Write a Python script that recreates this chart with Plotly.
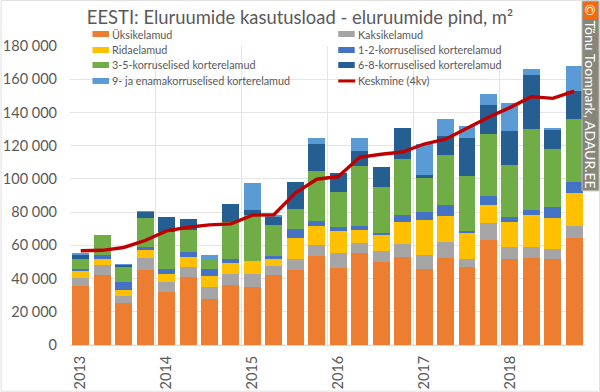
import plotly.graph_objects as go

x_index = list(range(24))
year_ticks = [0, 4, 8, 12, 16, 20]
year_labels = ["2013", "2014", "2015", "2016", "2017", "2018"]
year_edges = [-0.5, 3.5, 7.5, 11.5, 15.5, 19.5, 23.5]
y_ticks = [0, 20000, 40000, 60000, 80000, 100000, 120000, 140000, 160000, 180000]
y_labels = ["0", "20 000", "40 000", "60 000", "80 000", "100 000", "120 000", "140 000", "160 000", "180 000"]

uksik = [35700, 42300, 25500, 45300, 32000, 40700, 27700, 35900, 35000, 41900, 45300, 53700, 46300, 55100, 50100, 52900, 45900, 52500, 47100, 63300, 51900, 52500, 51900, 64300]
kaksik = [4800, 6000, 4000, 7200, 5900, 6400, 7200, 7000, 7500, 5800, 6600, 6600, 9200, 6200, 6400, 8000, 8000, 9800, 4800, 10000, 7400, 6600, 5800, 7400]
ridae = [3800, 3600, 3400, 4800, 4600, 6000, 6800, 6400, 7800, 4200, 12400, 11600, 13400, 8200, 9600, 13200, 21300, 15500, 15600, 11100, 14800, 19300, 18700, 19700]
k1_2 = [1400, 2400, 4800, 1800, 3000, 3000, 4200, 2600, 0, 1800, 5800, 2800, 2200, 2200, 1400, 4100, 5000, 6600, 1000, 5600, 2700, 3000, 6600, 6800]
k3_5 = [5800, 11800, 9000, 17500, 22800, 12900, 6000, 22100, 27700, 18800, 11900, 30300, 21100, 36100, 27900, 33600, 20600, 30000, 33500, 36900, 31400, 48500, 35200, 37700]
k6_8 = [3000, 0, 1600, 3800, 8700, 7000, 0, 10600, 3400, 4900, 16400, 16000, 11200, 9000, 11600, 18700, 1600, 11500, 22500, 17800, 20500, 32500, 11700, 17000]
k9 = [300, 0, 400, 200, 0, 0, 2400, 0, 16000, 400, 0, 3500, 0, 8000, 0, 0, 18500, 10000, 7500, 6400, 17200, 3800, 300, 15200]
keskmine = [56700, 57000, 58700, 62900, 68700, 70900, 72300, 72900, 78200, 78400, 91400, 99800, 101400, 113000, 114800, 116200, 121000, 123900, 130500, 137100, 142900, 149500, 148500, 152900]

series = [
    ("Üksikelamud", uksik, "#ED7D31"),
    ("Kaksikelamud", kaksik, "#A5A5A5"),
    ("Ridaelamud", ridae, "#FFC000"),
    ("1-2-korruselised korterelamud", k1_2, "#4472C4"),
    ("3-5-korruselised korterelamud", k3_5, "#70AD47"),
    ("6-8-korruselised korterelamud", k6_8, "#255E91"),
    ("9- ja enamakorruselised korterelamud", k9, "#5B9BD5"),
]
line_name = "Keskmine (4kv)"
line_color = "#C00000"

TXT = "#595959"
FONT = "Lato"
W, H = 600, 392
L, R, T, B = 69.5, 585, 46, 345.3


def fx(p):
    return (p - L) / (R - L)


def fy(p):
    return (B - p) / (B - T)


fig = go.Figure()
for name, vals, col in series:
    fig.add_trace(go.Bar(name=name, x=x_index, y=vals, marker=dict(color=col, line=dict(width=0)), width=0.79))
fig.add_trace(go.Scatter(name=line_name, x=x_index, y=keskmine, mode="lines",
                         line=dict(color=line_color, width=3.4)))

fig.update_layout(
    width=W, height=H, autosize=False, barmode="stack",
    paper_bgcolor="white", plot_bgcolor="white",
    margin=dict(l=L, r=W - R, t=T, b=H - B),
    font=dict(family=FONT, color=TXT),
    title=dict(text="EESTI: Eluruumide kasutusload - eluruumide pind, m²", x=300 / W, xanchor="center",
               y=1 - 18 / H, yanchor="middle", font=dict(size=18.4, color=TXT, family=FONT)),
    showlegend=False,
    xaxis=dict(range=[-0.5, 23.5], tickmode="array", tickvals=year_ticks, ticktext=year_labels, tickangle=-90,
               automargin=False,
               showgrid=False, zeroline=False, showline=True, linecolor="#D9D9D9", ticks="", ticklabelstandoff=4,
               tickfont=dict(size=14.5, color=TXT),
               minor=dict(tickmode="array", tickvals=year_edges, showgrid=True, gridcolor="#E4E4E4", gridwidth=1, ticks="")),
    yaxis=dict(range=[0, 180000], tickmode="array", tickvals=y_ticks, ticktext=y_labels, showgrid=True,
               automargin=False,
               gridcolor="#E4E4E4", gridwidth=1, zeroline=False, showline=False, ticks="", ticklabelstandoff=12,
               tickfont=dict(size=14.5, color=TXT)),
)

# outer frame
fig.add_shape(type="rect", xref="paper", yref="paper", x0=fx(0.5), x1=fx(599.5), y0=fy(391.5), y1=fy(0.5),
              line=dict(color="#E0E0E0", width=1), fillcolor="rgba(0,0,0,0)", layer="below")

# legend, laid out in two columns of four rows like the original
col_x = [92, 338]
row_y = [34, 50, 65, 81]
entries = [(s[0], s[2], False) for s in series] + [(line_name, line_color, True)]
for i, (name, col, is_line) in enumerate(entries):
    cx = col_x[i % 2]
    cy = row_y[i // 2]
    if is_line:
        fig.add_shape(type="line", xref="paper", yref="paper", x0=fx(cx), x1=fx(cx + 17), y0=fy(cy), y1=fy(cy),
                      line=dict(color=col, width=3), layer="above")
    else:
        fig.add_shape(type="rect", xref="paper", yref="paper", x0=fx(cx), x1=fx(cx + 16.5), y0=fy(cy + 3), y1=fy(cy - 3),
                      fillcolor=col, line=dict(width=0), layer="above")
    fig.add_annotation(text=name, xref="paper", yref="paper", x=fx(cx + 18), y=fy(cy), showarrow=False,
                       xanchor="left", yanchor="middle", font=dict(size=10.8, color=TXT, family=FONT))

# watermark
fig.add_shape(type="rect", xref="paper", yref="paper", x0=fx(582), x1=fx(599), y0=fy(191), y1=fy(1),
              fillcolor="#86867A", line=dict(color="#BDBDB5", width=1), layer="above")
fig.add_shape(type="rect", xref="paper", yref="paper", x0=fx(583), x1=fx(598), y0=fy(19), y1=fy(2),
              fillcolor="#F26A10", line=dict(width=0), layer="above")
fig.add_annotation(text="Tõnu Toompark, ADAUR.EE", xref="paper", yref="paper", x=fx(590.5), y=fy(105),
                   textangle=90, showarrow=False, font=dict(size=14, color="white", family=FONT),
                   xanchor="center", yanchor="middle")
fig.add_annotation(text="©", xref="paper", yref="paper", x=fx(590.5), y=fy(10.5),
                   textangle=90, showarrow=False, font=dict(size=14, color="white", family=FONT),
                   xanchor="center", yanchor="middle")

fig.write_html("out.html", config=dict(displayModeBar=False),
               post_script="document.body.style.margin='0';document.documentElement.style.overflow='hidden';")
